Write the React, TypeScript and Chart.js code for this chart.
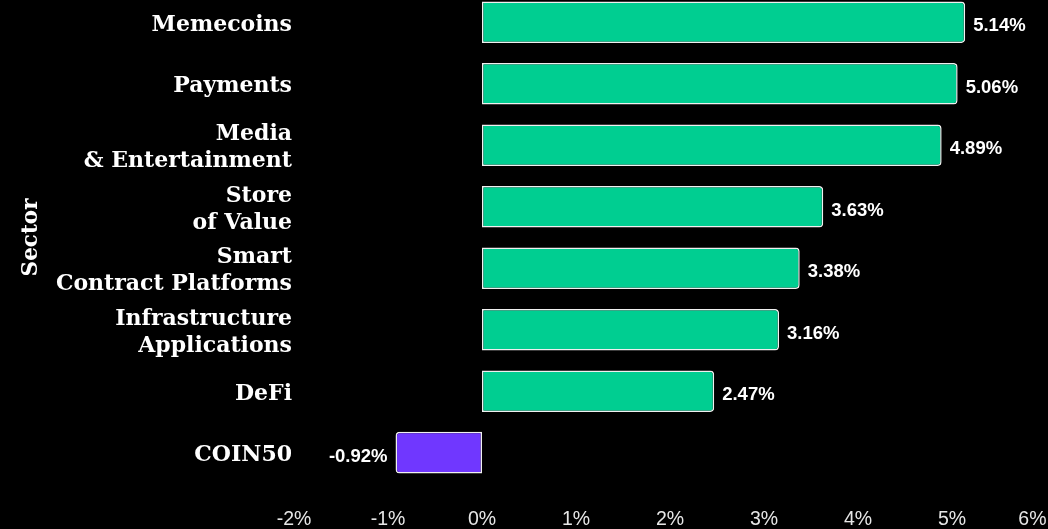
import React, { useEffect, useRef } from 'react';
import { Chart, registerables } from 'chart.js';

Chart.register(...registerables);

const categories: string[][] = [
  ['Memecoins'],
  ['Payments'],
  ['Media', '& Entertainment'],
  ['Store', 'of Value'],
  ['Smart', 'Contract Platforms'],
  ['Infrastructure', 'Applications'],
  ['DeFi'],
  ['COIN50'],
];
const values: number[] = [5.14, 5.06, 4.89, 3.63, 3.38, 3.16, 2.47, -0.92];
const xMin = -2;
const xMax = 6;
const axisTitle = 'Sector';

const GREEN = '#00CE91';
const PURPLE = '#7037FF';

const valueLabels = {
  id: 'valueLabels',
  afterDatasetsDraw(chart: any) {
    const ctx = chart.ctx;
    const meta = chart.getDatasetMeta(0);
    ctx.save();
    ctx.font = 'bold 18.5px "Liberation Sans", Arial, sans-serif';
    ctx.fillStyle = '#ffffff';
    ctx.textBaseline = 'middle';
    meta.data.forEach((bar: any, i: number) => {
      const v = values[i];
      const txt = v.toFixed(2) + '%';
      if (v >= 0) {
        ctx.textAlign = 'left';
        ctx.fillText(txt, bar.x + 8, bar.y + 4);
      } else {
        ctx.textAlign = 'right';
        ctx.fillText(txt, bar.x - 8, bar.y + 4);
      }
    });
    ctx.restore();
  },
};

const CANVAS_W = 1116;
const CANVAS_H = 590;
const CANVAS_TOP = -24;

export default function App() {
  const ref = useRef<HTMLCanvasElement>(null);
  useEffect(() => {
    document.body.style.margin = '0';
    document.body.style.background = '#000';
    const canvas = ref.current!;
    const chart = new Chart(canvas, {
      type: 'bar',
      data: {
        labels: categories,
        datasets: [
          {
            data: values,
            backgroundColor: values.map((v) => (v >= 0 ? GREEN : PURPLE)),
            borderColor: '#f0f0f0',
            borderWidth: 1.5,
            borderSkipped: false,
            borderRadius: (c: any) =>
              values[c.dataIndex] >= 0
                ? { topLeft: 0, bottomLeft: 0, topRight: 4, bottomRight: 4 }
                : { topLeft: 4, bottomLeft: 4, topRight: 0, bottomRight: 0 },
            barPercentage: 0.8,
            categoryPercentage: 0.845,
          },
        ],
      },
      options: {
        indexAxis: 'y',
        responsive: false,
        animation: false,
        devicePixelRatio: 1,
        layout: { padding: { top: 0, right: CANVAS_W - 1046, bottom: 9.2, left: 0 } },
        plugins: {
          legend: { display: false },
          tooltip: { enabled: false },
        },
        scales: {
          x: {
            type: 'linear',
            min: xMin,
            max: xMax,
            grid: { display: false, drawTicks: false },
            border: { display: false },
            ticks: {
              stepSize: 1,
              padding: 25,
              color: '#e6e6e6',
              font: { family: '"Liberation Sans", Arial, sans-serif', size: 19.5 },
              callback: (v: any) => (v === xMax ? v + '%     ' : v + '%'),
            },
          },
          y: {
            grid: { display: false, drawTicks: false },
            border: { display: false },
            afterFit: (scale: any) => {
              scale.width = 294;
            },
            title: {
              display: true,
              text: axisTitle,
              color: '#ffffff',
              padding: { top: 19, bottom: 0 },
              font: { family: '"DejaVu Serif", serif', size: 21.5, weight: 'bold' },
            },
            ticks: {
              padding: 2,
              labelOffset: 3,
              color: '#ffffff',
              font: { family: '"DejaVu Serif", serif', size: 22, weight: 'bold', lineHeight: 1.227 },
            },
          },
        },
      },
      plugins: [valueLabels],
    });
    return () => chart.destroy();
  }, []);
  return (
    <div
      style={{
        position: 'absolute',
        left: 0,
        top: 0,
        width: 1048,
        height: 529,
        overflow: 'hidden',
        background: '#000',
      }}
    >
      <canvas
        ref={ref}
        width={CANVAS_W}
        height={CANVAS_H}
        style={{ position: 'absolute', left: 0, top: CANVAS_TOP, width: CANVAS_W, height: CANVAS_H }}
      />
    </div>
  );
}
